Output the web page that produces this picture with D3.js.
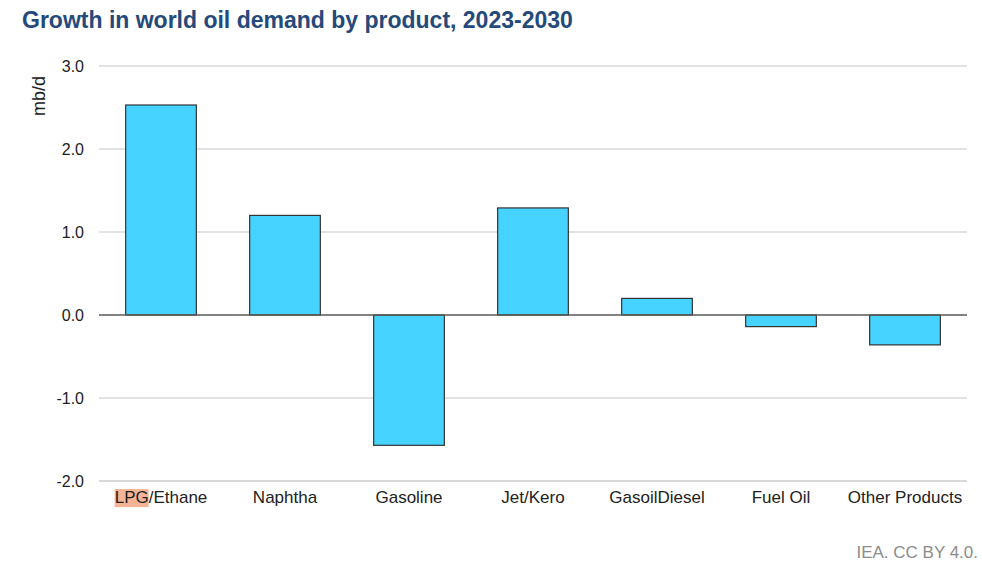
<!DOCTYPE html>
<html><head><meta charset="utf-8">
<script src="https://cdn.jsdelivr.net/npm/d3@7"></script>
<style>body{margin:0;background:#fff;}svg{display:block;font-family:"Liberation Sans",Arial,sans-serif;}</style>
</head><body><svg id="c" width="982" height="566"></svg>
<script>
const categories = ["LPG/Ethane","Naphtha","Gasoline","Jet/Kero","GasoilDiesel","Fuel Oil","Other Products"];
const values = [2.53, 1.20, -1.57, 1.29, 0.20, -0.14, -0.36];
const yTicks = [-2, -1, 0, 1, 2, 3];

const svg = d3.select("#c");
const x = d3.scaleBand().domain(categories).range([99, 967]).paddingInner(0.43).paddingOuter(0.215);
const y = d3.scaleLinear().domain([-2, 3]).range([481, 66]);

svg.append("text").attr("x", 22).attr("y", 28).attr("font-size", 23).attr("font-weight", "bold")
  .attr("fill", "#24497a").text("Growth in world oil demand by product, 2023-2030");

// gridlines
svg.append("g").selectAll("line").data(yTicks.filter(d => d !== 0)).join("line")
  .attr("x1", 99).attr("x2", 967).attr("y1", d => y(d)).attr("y2", d => y(d))
  .attr("stroke", "#d9d9d9").attr("stroke-width", d => d === -2 ? 2 : 1.3);

// y axis labels
const yAxis = d3.axisLeft(y).tickValues(yTicks).tickFormat(d => d.toFixed(1)).tickSize(0).tickPadding(0);
const ya = svg.append("g").attr("transform", "translate(84,0)").call(yAxis);
ya.select(".domain").remove();
ya.selectAll("text").attr("font-size", 16).attr("fill", "#222").attr("font-family", "Liberation Sans, Arial, sans-serif").attr("dy", "0.35em");

svg.append("text").attr("transform", "translate(45,96) rotate(-90)").attr("text-anchor", "middle")
  .attr("font-size", 18).attr("fill", "#222").text("mb/d");

// bars
svg.append("g").selectAll("rect").data(values).join("rect")
  .attr("x", (d, i) => x(categories[i])).attr("width", x.bandwidth())
  .attr("y", d => y(Math.max(0, d))).attr("height", d => Math.abs(y(d) - y(0)))
  .attr("fill", "#46d3ff").attr("stroke", "#333").attr("stroke-width", 1.2);

// zero line
svg.append("line").attr("x1", 99).attr("x2", 967).attr("y1", y(0)).attr("y2", y(0))
  .attr("stroke", "#595959").attr("stroke-width", 1.3);

// x labels
const xAxis = d3.axisBottom(x).tickSize(0).tickPadding(0);
const xa = svg.append("g").attr("transform", "translate(0,491)").call(xAxis);
xa.select(".domain").remove();
xa.selectAll("text").attr("font-size", 17).attr("fill", "#222").attr("font-family", "Liberation Sans, Arial, sans-serif").attr("dy", "0.71em");

// highlight "LPG"
const lt = xa.selectAll("text").filter(d => d === "LPG/Ethane").node();
if (lt) {
  const bb = lt.getBBox();
  const w = lt.getSubStringLength(0, 3);
  const g = d3.select(lt.parentNode);
  g.insert("rect", "text").attr("x", bb.x).attr("y", bb.y + 1).attr("width", w).attr("height", bb.height - 1)
    .attr("fill", "#f5b496");
}

svg.append("text").attr("x", 978).attr("y", 558).attr("text-anchor", "end").attr("font-size", 17)
  .attr("fill", "#8c8c8c").text("IEA. CC BY 4.0.");
</script></body></html>
